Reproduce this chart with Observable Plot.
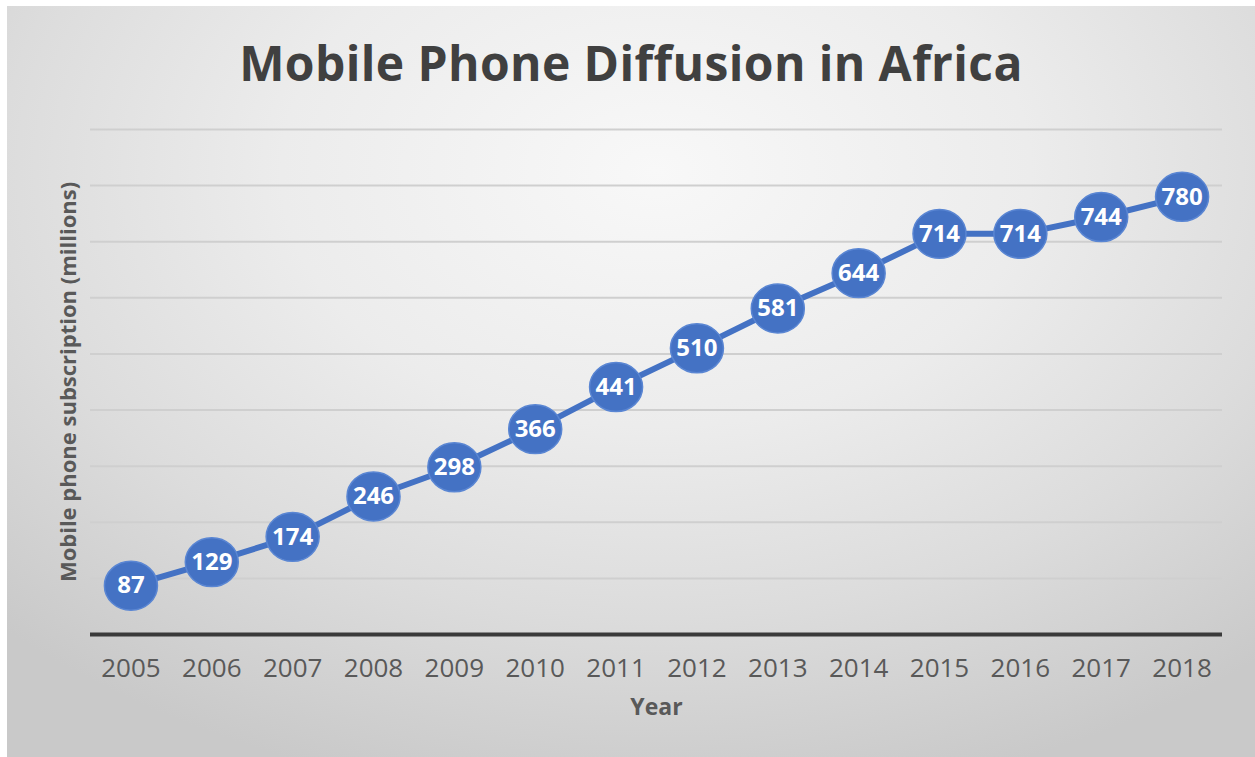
<!DOCTYPE html>
<html>
<head>
<meta charset="utf-8">
<script src="https://cdn.jsdelivr.net/npm/d3@7"></script>
<script src="https://cdn.jsdelivr.net/npm/@observablehq/plot@0.6"></script>
<style>
  html, body { margin: 0; padding: 0; background: #ffffff; }
  body { width: 1255px; height: 757px; position: relative; overflow: hidden; font-family: "Open Sans", sans-serif; }
  #frame {
    position: absolute; left: 7px; top: 6px; width: 1248px; height: 751px;
    background: radial-gradient(ellipse 75% 85% at 52% 22%, #f8f8f8 0%, #ececec 40%, #dcdcdc 70%, #c9c9c9 100%);
  }
  #title {
    position: absolute; left: 0; top: 0; width: 100%; height: 110px;
    text-align: center; line-height: 114px;
    font-size: 48px; font-weight: 700; color: #404040; letter-spacing: 0.4px;
  }
  #chart { position: absolute; left: 0; top: 110px; }
  #chart svg { background: transparent; overflow: visible; }
</style>
</head>
<body>
<div id="frame">
  <div id="title">Mobile Phone Diffusion in Africa</div>
  <div id="chart"></div>
</div>
<script>
const years = ["2005","2006","2007","2008","2009","2010","2011","2012","2013","2014","2015","2016","2017","2018"];
const subscriptions = [87, 129, 174, 246, 298, 366, 441, 510, 581, 644, 714, 714, 744, 780];
const gridTicks = [100, 200, 300, 400, 500, 600, 700, 800, 900];
const xLabel = "Year";
const yLabel = "Mobile phone subscription (millions)";

const data = years.map((y, i) => ({year: y, value: subscriptions[i]}));

const ellipse = {
  draw(context, size) {
    const r = Math.sqrt(size / Math.PI);
    const rx = r * 1.04, ry = r * 0.96, k = 0.5523;
    context.moveTo(rx, 0);
    context.bezierCurveTo(rx, ry * k, rx * k, ry, 0, ry);
    context.bezierCurveTo(-rx * k, ry, -rx, ry * k, -rx, 0);
    context.bezierCurveTo(-rx, -ry * k, -rx * k, -ry, 0, -ry);
    context.bezierCurveTo(rx * k, -ry, rx, -ry * k, rx, 0);
    context.closePath();
  }
};

const blue = "#4472C4";

const plot = Plot.plot({
  width: 1248,
  height: 641,
  marginLeft: 83,
  marginRight: 33,
  marginTop: 13,
  marginBottom: 123,
  style: {background: "transparent", fontFamily: "Open Sans, sans-serif"},
  x: {type: "point", domain: years, padding: 0.5, round: false, label: null},
  y: {domain: [0, 900], label: null, axis: null},
  marks: [
    Plot.gridY(gridTicks, {stroke: "#cfcfcf", strokeOpacity: 1, strokeWidth: 2}),
    Plot.ruleY([0], {stroke: "#3a3a3a", strokeWidth: 4}),
    Plot.axisX({tickSize: 0, tickPadding: 24, fontSize: 26, fill: "#595959", label: null}),
    Plot.line(data, {x: "year", y: "value", stroke: blue, strokeWidth: 6}),
    Plot.dot(data, {x: "year", y: "value", r: 25.5, symbol: ellipse, fill: blue, stroke: "#5a86d3", strokeWidth: 1.5}),
    Plot.text(data, {x: "year", y: "value", text: d => String(d.value), fill: "white", fontSize: 24, fontWeight: 700}),
    Plot.text([xLabel], {text: d => d, frameAnchor: "bottom", dy: 80, fontSize: 23, fontWeight: 700, fill: "#595959"}),
    Plot.text([yLabel], {text: d => d, frameAnchor: "left", textAnchor: "middle", dx: -22, rotate: -90, fontSize: 22, fontWeight: 700, fill: "#595959"})
  ]
});
document.getElementById("chart").appendChild(plot);
</script>
</body>
</html>
